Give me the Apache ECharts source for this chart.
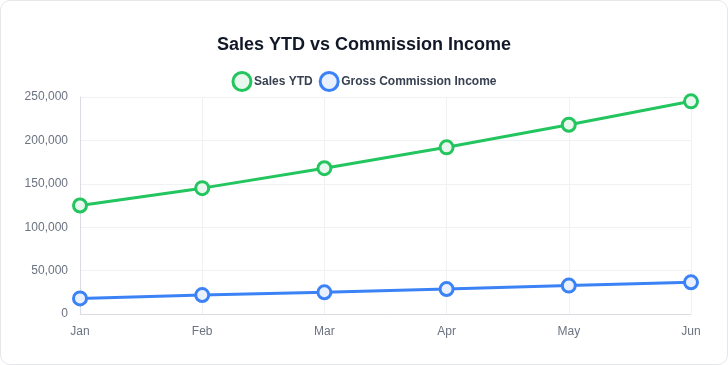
<!DOCTYPE html>
<html><head><meta charset="utf-8">
<script src="https://cdn.jsdelivr.net/npm/echarts@6/dist/echarts.min.js"></script>
<style>
html,body{margin:0;padding:0;background:#fff;}
#wrap{position:absolute;left:0;top:0;width:726px;height:363px;border:1px solid #e5e7eb;border-radius:10px;overflow:hidden;background:#fff;}
#chart{width:726px;height:363px;}
</style></head>
<body><div id="wrap"><div id="chart"></div></div>
<script>
const categories = ['Jan','Feb','Mar','Apr','May','Jun'];
const salesYTD = [125000, 145000, 168000, 192000, 218000, 245000];
const grossCommission = [18000, 21800, 25000, 28700, 32700, 36500];
const yTicks = {min: 0, max: 250000, interval: 50000};

const chart = echarts.init(document.getElementById('chart'));
const font = 'Arial, "Liberation Sans", Helvetica, sans-serif';
chart.setOption({
  animation: false,
  textStyle: {fontFamily: font},
  title: {
    text: 'Sales YTD vs Commission Income',
    left: 'center', top: 30,
    textStyle: {fontSize: 18, fontWeight: 'bold', color: '#111827', fontFamily: font}
  },
  legend: {
    top: 65, left: 'center',
    itemWidth: 18, itemHeight: 18, itemGap: 6,
    icon: 'circle',
    textStyle: {fontSize: 12, fontWeight: 'bold', color: '#374151', fontFamily: font, padding: [0,0,0,-2]},
    data: [
      {name: 'Sales YTD', itemStyle: {color: '#e8f8ee', borderColor: '#22c55e', borderWidth: 3}},
      {name: 'Gross Commission Income', itemStyle: {color: '#eaf1fe', borderColor: '#3b82f6', borderWidth: 3}}
    ]
  },
  grid: {left: 79, right: 36, top: 96, bottom: 50},
  xAxis: {
    type: 'category', data: categories, boundaryGap: false,
    axisLine: {lineStyle: {color: '#d9dce1', width: 1}},
    axisTick: {show: false},
    axisLabel: {color: '#6b7280', fontSize: 12, margin: 12, fontFamily: font},
    splitLine: {show: true, lineStyle: {color: '#f0f1f3'}}
  },
  yAxis: {
    type: 'value', min: yTicks.min, max: yTicks.max, interval: yTicks.interval,
    axisLine: {show: true, lineStyle: {color: '#d9dce1'}},
    axisTick: {show: false},
    axisLabel: {color: '#6b7280', fontSize: 12, margin: 12, fontFamily: font,
      formatter: v => v.toLocaleString('en-US')},
    splitLine: {lineStyle: {color: '#f0f1f3'}}
  },
  series: [
    {name: 'Sales YTD', type: 'line', data: salesYTD,
      symbol: 'circle', symbolSize: 13,
      lineStyle: {color: '#22c55e', width: 3},
      itemStyle: {color: '#e8f8ee', borderColor: '#22c55e', borderWidth: 3}},
    {name: 'Gross Commission Income', type: 'line', data: grossCommission,
      symbol: 'circle', symbolSize: 13,
      lineStyle: {color: '#3b82f6', width: 3},
      itemStyle: {color: '#eaf1fe', borderColor: '#3b82f6', borderWidth: 3}}
  ]
});
</script></body></html>
